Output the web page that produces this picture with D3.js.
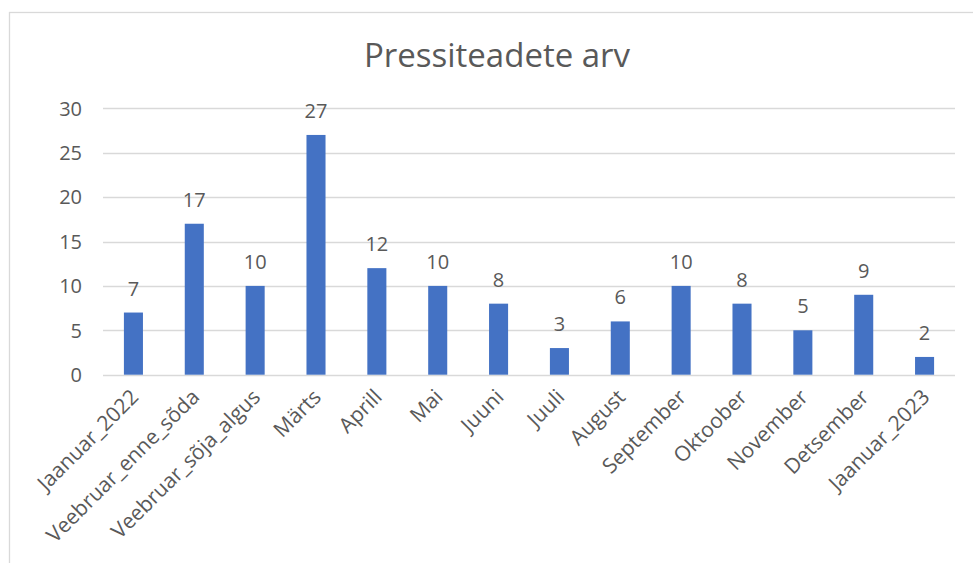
<!DOCTYPE html>
<meta charset="utf-8">
<style>
  body { margin: 0; background: #fff; }
  text { font-family: "Open Sans", sans-serif; fill: #595959; }
  .grid line { stroke: #d9d9d9; stroke-width: 1.3; }
  .title { font-size: 33px; text-anchor: middle; }
  .ytick { font-size: 20px; text-anchor: end; }
  .xlab { font-size: 21px; text-anchor: end; }
  .val { font-size: 20px; text-anchor: middle; }
</style>

<svg class="chart" width="973" height="563"></svg>

<script src="https://d3js.org/d3.v7.min.js"></script>
<script>

  var months = ["Jaanuar_2022", "Veebruar_enne_sõda", "Veebruar_sõja_algus", "Märts", "Aprill", "Mai",
                "Juuni", "Juuli", "August", "September", "Oktoober", "November", "Detsember", "Jaanuar_2023"];
  var counts = [7, 17, 10, 27, 12, 10, 8, 3, 6, 10, 8, 5, 9, 2];
  var yTicks = [0, 5, 10, 15, 20, 25, 30];
  var title = "Pressiteadete arv";

  var svg = d3.select(".chart"),
      width = +svg.attr("width"),
      height = +svg.attr("height");

  // chart frame (runs past the right and bottom edge of the picture)
  svg.append("rect")
      .attr("x", 9.5).attr("y", 12.5)
      .attr("width", 1000).attr("height", 1000)
      .attr("fill", "none")
      .attr("stroke", "#d9d9d9")
      .attr("stroke-width", 1.3);

  var x = d3.scaleBand()
      .domain(months)
      .range([103, 955])
      .paddingInner(0.687)
      .paddingOuter(0.3435);

  var y = d3.scaleLinear()
      .domain([0, 30])
      .range([374.7, 108.3]);

  svg.append("text")
      .attr("class", "title")
      .attr("x", 497)
      .attr("y", 67)
      .text(title);

  var grid = svg.append("g").attr("class", "grid");
  grid.selectAll("line")
    .data(yTicks)
    .enter().append("line")
      .attr("x1", 103).attr("x2", 955)
      .attr("y1", function (d) { return Math.round(y(d)) + 0.5; })
      .attr("y2", function (d) { return Math.round(y(d)) + 0.5; });

  svg.append("g").selectAll("text")
    .data(yTicks)
    .enter().append("text")
      .attr("class", "ytick")
      .attr("x", 82)
      .attr("y", function (d) { return y(d); })
      .attr("dy", "0.36em")
      .text(function (d) { return d; });

  svg.append("g").selectAll("rect")
    .data(counts)
    .enter().append("rect")
      .attr("x", function (d, i) { return x(months[i]); })
      .attr("width", x.bandwidth())
      .attr("y", function (d) { return y(d); })
      .attr("height", function (d) { return y(0) - y(d); })
      .attr("fill", "#4472c4");

  svg.append("g").selectAll("text")
    .data(counts)
    .enter().append("text")
      .attr("class", "val")
      .attr("x", function (d, i) { return x(months[i]) + x.bandwidth() / 2; })
      .attr("y", function (d) { return y(d) - 17; })
      .text(function (d) { return d; });

  svg.append("g").selectAll("text")
    .data(months)
    .enter().append("text")
      .attr("class", "xlab")
      .attr("transform", function (d) {
        return "translate(" + (x(d) + x.bandwidth() / 2 + 1) + ",393) rotate(-45)";
      })
      .attr("dy", "0.36em")
      .text(function (d) { return d; });

</script>
